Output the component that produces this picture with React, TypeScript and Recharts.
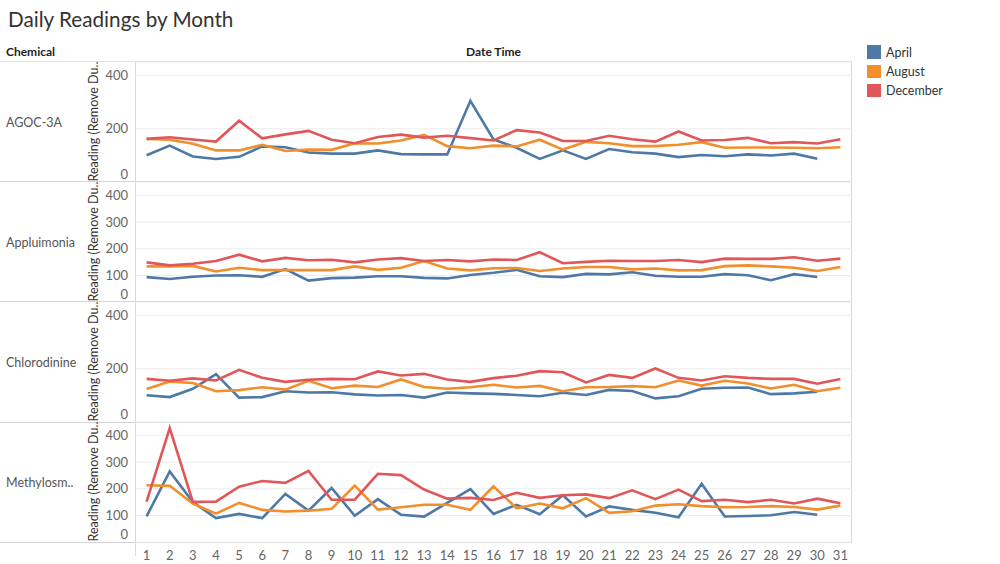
import { LineChart, Line, XAxis, YAxis, CartesianGrid } from "recharts";

const DAYS = [1, 2, 3, 4, 5, 6, 7, 8, 9, 10, 11, 12, 13, 14, 15, 16, 17, 18, 19, 20, 21, 22, 23, 24, 25, 26, 27, 28, 29, 30, 31];
const MONTHS = ["April", "August", "December"];
const CHEMICALS = ["AGOC-3A", "Appluimonia", "Chlorodinine", "Methylosm.."];

// April has no day 31
const agocApril = [101, 137, 96, 87, 95, 134, 131, 111, 107, 107, 119, 105, 104, 104, 305, 160, 129, 87, 119, 87, 124, 112, 107, 94, 102, 97, 104, 100, 107, 88, null];
const agocAugust = [162, 159, 144, 119, 119, 140, 117, 122, 121, 146, 145, 156, 177, 135, 127, 137, 134, 159, 122, 151, 146, 135, 135, 140, 150, 129, 130, 130, 129, 127, 131];
const agocDecember = [162, 168, 160, 152, 230, 164, 179, 192, 159, 146, 169, 178, 167, 174, 165, 156, 195, 186, 154, 154, 174, 161, 152, 190, 156, 158, 166, 146, 150, 145, 161];

const appluApril = [94, 87, 95, 100, 101, 95, 124, 81, 90, 92, 97, 97, 91, 89, 102, 110, 121, 97, 94, 106, 104, 112, 99, 95, 95, 105, 101, 82, 105, 94, null];
const appluAugust = [134, 134, 136, 115, 129, 120, 120, 120, 120, 134, 121, 129, 154, 126, 119, 127, 128, 117, 126, 132, 132, 123, 126, 119, 120, 135, 138, 134, 129, 117, 132];
const appluDecember = [149, 138, 144, 154, 178, 153, 166, 157, 159, 149, 160, 165, 154, 158, 153, 160, 158, 187, 146, 151, 155, 154, 154, 158, 150, 163, 162, 162, 168, 155, 163];

const chloroApril = [101, 94, 125, 180, 92, 94, 116, 111, 112, 104, 100, 102, 92, 111, 108, 106, 102, 97, 110, 102, 121, 117, 89, 97, 125, 129, 130, 105, 108, 114, null];
const chloroAugust = [124, 152, 147, 116, 120, 131, 122, 155, 127, 137, 132, 160, 132, 125, 131, 140, 130, 136, 116, 131, 132, 135, 131, 156, 137, 155, 145, 126, 140, 116, 129];
const chloroDecember = [162, 155, 164, 156, 196, 166, 151, 159, 162, 161, 190, 175, 181, 160, 151, 165, 174, 191, 187, 149, 177, 166, 201, 166, 156, 172, 166, 162, 162, 144, 162];

const methylApril = [97, 265, 150, 90, 106, 90, 181, 118, 203, 99, 161, 103, 96, 147, 199, 106, 140, 105, 176, 96, 134, 121, 110, 93, 219, 96, 98, 101, 113, 103, null];
const methylAugust = [213, 211, 144, 107, 147, 121, 115, 118, 125, 212, 122, 131, 140, 140, 121, 209, 127, 145, 127, 165, 110, 116, 137, 142, 135, 131, 132, 135, 132, 122, 137];
const methylDecember = [152, 427, 151, 152, 208, 229, 222, 267, 159, 159, 256, 251, 197, 163, 166, 158, 185, 166, 176, 179, 165, 194, 161, 197, 154, 159, 150, 159, 145, 163, 146];

const SERIES = [
  [agocApril, agocAugust, agocDecember],
  [appluApril, appluAugust, appluDecember],
  [chloroApril, chloroAugust, chloroDecember],
  [methylApril, methylAugust, methylDecember],
];
const Y_TICKS = [[0, 200, 400], [0, 100, 200, 300, 400], [0, 200, 400], [0, 100, 200, 300, 400]];

const COLORS: Record<string, string> = { April: "#4e79a7", August: "#f28e2b", December: "#e15759" };
const FONT = "Lato, 'Open Sans', sans-serif";
const PANEL_TOP = 61.5;
const PANEL_H = 120.2;

function YTick({ x, y, payload }: any) {
  return (
    <text x={x + 1} y={payload.value === 0 ? y - 8 : y} dy={4.5} textAnchor="end" fontSize={13} fill="#666" fontFamily={FONT}>
      {payload.value}
    </text>
  );
}

function Panel({ idx }: { idx: number }) {
  const last = idx === CHEMICALS.length - 1;
  const rows = DAYS.map((d, i) => {
    const row: any = { day: d };
    MONTHS.forEach((m, k) => { row[m] = SERIES[idx][k][i]; });
    return row;
  });
  return (
    <LineChart
      width={752}
      height={PANEL_H + (last ? 22 : 0)}
      data={rows}
      margin={{ top: 0, right: 0, bottom: 0, left: 0 }}
    >
      <CartesianGrid vertical={false} stroke="#ececec" />
      <XAxis
        dataKey="day"
        type="number"
        domain={[0.5, 31.5]}
        ticks={DAYS}
        hide={!last}
        height={22}
        axisLine={false}
        tickLine={false}
        interval={0}
        tick={{ fontSize: 13, fill: "#666", fontFamily: FONT }}
        tickMargin={3}
      />
      <YAxis
        domain={[0, 450]}
        ticks={Y_TICKS[idx]}
        interval={0}
        width={35}
        axisLine={false}
        tickLine={false}
        tick={<YTick />}
      />
      {MONTHS.map((m) => (
        <Line
          key={m}
          dataKey={m}
          type="linear"
          stroke={COLORS[m]}
          strokeWidth={2.6}
          dot={false}
          isAnimationActive={false}
        />
      ))}
    </LineChart>
  );
}

export default function App() {
  return (
    <div style={{ position: "absolute", left: 0, top: 0, width: 1000, height: 564, background: "#fff", fontFamily: FONT, overflow: "hidden" }}>
      <div style={{ position: "absolute", left: 8, top: 7, fontSize: 20.7, color: "#333" }}>Daily Readings by Month</div>
      <div style={{ position: "absolute", left: 6, top: 44, fontSize: 12, fontWeight: 700, color: "#222" }}>Chemical</div>
      <div style={{ position: "absolute", left: 135, width: 717, top: 44, fontSize: 12, fontWeight: 700, color: "#222", textAlign: "center" }}>Date Time</div>

      {/* header line and row separators */}
      {[0, 1, 2, 3, 4].map((i) => (
        <div key={i} style={{ position: "absolute", left: 0, width: 852, top: PANEL_TOP + i * PANEL_H - 0.5, height: 1, background: i === 0 ? "#e2e2e2" : "#d4d4d4" }} />
      ))}
      <div style={{ position: "absolute", left: 135, top: PANEL_TOP, width: 1, height: PANEL_H * 4 + 14, background: "#d9d9d9" }} />
      <div style={{ position: "absolute", left: 851, top: PANEL_TOP, width: 1, height: PANEL_H * 4, background: "#d9d9d9" }} />

      {CHEMICALS.map((c, i) => (
        <div key={c}>
          <div style={{ position: "absolute", left: 6, top: PANEL_TOP + i * PANEL_H + PANEL_H / 2 - 7, fontSize: 12.5, color: "#555" }}>{c}</div>
          <div
            style={{
              position: "absolute",
              left: 93 - 60,
              width: 120,
              top: PANEL_TOP + i * PANEL_H + PANEL_H / 2 - 8,
              textAlign: "center",
              fontSize: 12.5,
              color: "#333",
              transform: "rotate(-90deg)",
              whiteSpace: "nowrap",
            }}
          >
            Reading (Remove Du..
          </div>
          <div style={{ position: "absolute", left: 100, top: PANEL_TOP + i * PANEL_H }}>
            <Panel idx={i} />
          </div>
        </div>
      ))}

      {/* legend */}
      {MONTHS.map((m, i) => (
        <div key={m} style={{ position: "absolute", left: 867, top: 44.5 + i * 19.3, display: "flex", alignItems: "center" }}>
          <div style={{ width: 14, height: 13.5, background: COLORS[m] }} />
          <span style={{ marginLeft: 5, fontSize: 12.5, color: "#333" }}>{m}</span>
        </div>
      ))}
    </div>
  );
}
